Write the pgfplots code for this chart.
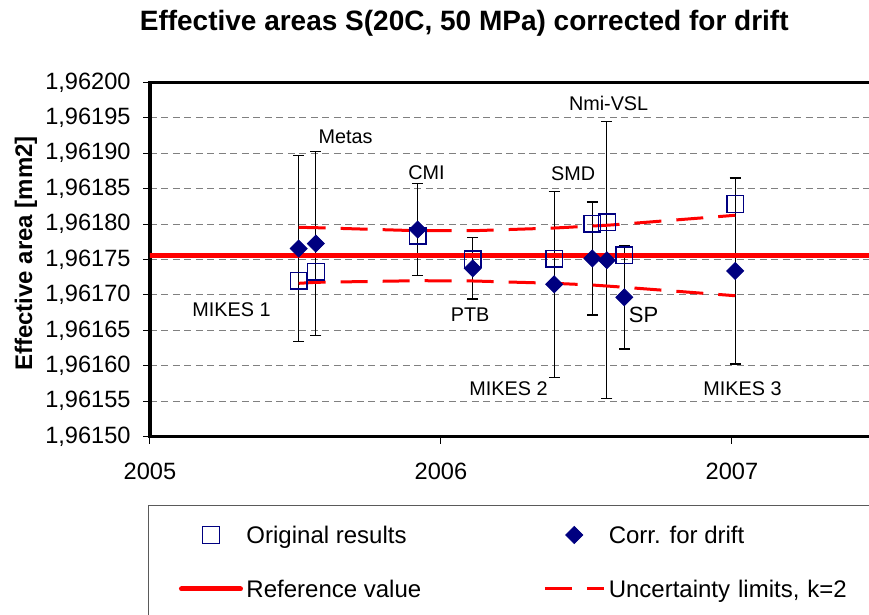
\documentclass[border=0pt]{standalone}
\usepackage{fontspec}
\setmainfont{Liberation Sans}
\usepackage{pgfplots}
\usepackage{pgfplotstable}
\pgfplotsset{compat=1.18}
\definecolor{navyblue}{RGB}{0,0,128}
\definecolor{refred}{RGB}{255,0,0}
\definecolor{gridgray}{RGB}{128,128,128}
\definecolor{boxgray}{RGB}{90,90,90}

% areas given as (S - 1,96150 mm2) in units of 1e-5 mm2
\pgfplotstableread{
year      orig  corr   err    uup    ulo
2005.511  22.01 26.55  13.12  29.54  21.64
2005.570  23.28 27.25  13.00  29.49  21.78
2005.920  28.36 29.22  6.47   29.06  22.01
2006.109  25.03 23.75  4.32   29.06  21.97
2006.389  25.11 21.50  13.12  29.44  21.64
2006.520  30.05 25.15  7.97   29.73  21.40
2006.570  30.25 24.90  19.56  29.83  21.26
2006.630  25.59 19.66  7.29   30.01  21.08
2007.011  32.83 23.38  13.12  31.24  19.89
}\results

\pgfplotsset{
  legline/.style={legend image code/.code={\draw[##1] (0pt,4.3pt) -- (29.5pt,4.3pt);}},
  legmark/.style={legend image code/.code={\draw[mark repeat=2,mark phase=2,##1] plot coordinates {(0pt,4.3pt) (14.75pt,4.3pt) (29.5pt,4.3pt)};}},
}

\begin{document}
\begin{tikzpicture}
\useasboundingbox (-75pt,-89.15pt) rectangle (359.5pt,218.35pt);
\clip (-75pt,-89.15pt) rectangle (359.5pt,218.35pt);
\begin{axis}[
  scale only axis,
  width=363.75pt, height=177.2pt,
  xmin=2005, xmax=2007.5,
  ymin=0, ymax=50,
  xtick={2005,2006,2007},
  xticklabels={2005,2006,2007},
  ytick={0,5,...,50},
  yticklabels={{1,96150},{1,96155},{1,96160},{1,96165},{1,96170},{1,96175},{1,96180},{1,96185},{1,96190},{1,96195},{1,96200}},
  xtick pos=bottom, ytick pos=left,
  tick align=outside,
  major tick length=3.5pt,
  tick style={black, line width=0.5pt},
  axis line style={black, line width=1.6pt},
  ymajorgrids,
  major grid style={gridgray, line width=0.5pt, dash pattern=on 3.5pt off 2.25pt},
  ticklabel style={font=\fontsize{11.8}{13}\selectfont},
  yticklabel style={anchor=east, inner sep=0pt, xshift=-6pt},
  xticklabel style={anchor=base, inner sep=0pt, yshift=-18pt},
  title={Effective areas S(20C, 50 MPa) corrected for drift},
  title style={font=\bfseries\fontsize{14}{16}\selectfont, at={(axis description cs:0.432,1)}, anchor=base, yshift=20.15pt},
  ylabel={Effective area [mm2]},
  every axis y label/.style={at={(axis description cs:0,0.517)}, xshift=-62pt, rotate=90, anchor=center, font=\bfseries\fontsize{12}{14}\selectfont},
  legend columns=2,
  legend cell align=left,
  legend style={
    at={(axis description cs:0,0)}, anchor=north west,
    xshift=-0.65pt, yshift=-34.5pt,
    draw=boxgray, line width=0.5pt, outer sep=0pt,
    inner xsep=15.15pt, inner ysep=9.95pt,
    font=\fontsize{12}{14}\selectfont,
    nodes={inner sep=0pt, anchor=base west, text height=9pt, text depth=3pt},
    row sep=15pt,
    /tikz/every odd column/.append style={column sep=1.75pt},
    /tikz/every even column/.append style={column sep=61pt},
  },
]
% original results
\addplot[only marks, mark=square, mark size=4.2pt, navyblue, line width=0.75pt, legmark]
  table[x=year, y=orig] {\results};
\addlegendentry{Original results}

% corrected for drift, with k=2 uncertainty bars
\addplot[only marks, mark=diamond*, mark size=4.25pt, navyblue,
  mark options={xscale=1.333, fill=navyblue, draw=navyblue}, legmark,
  error bars/.cd, y dir=both, y explicit,
  error bar style={black, line width=0.6pt},
  error mark options={rotate=90, black, line width=0.6pt, mark size=2.75pt}]
  table[x=year, y=corr, y error=err] {\results};
\addlegendentry{Corr. for drift}

% reference value
\addplot[refred, line width=2.5pt, line cap=round, legline] coordinates {(2005,25.5) (2007.5,25.5)};
\addlegendentry[text depth=22pt]{Reference value}

% uncertainty limits
\addplot[refred, line width=1.5pt, dash pattern=on 13.5pt off 7.5pt, legline]
  table[x=year, y=uup] {\results};
\addlegendentry[text depth=22pt, text width=150pt]{Uncertainty limits, k=2}
\addplot[refred, line width=1.5pt, dash pattern=on 13.5pt off 7.5pt, forget plot]
  table[x=year, y=ulo] {\results};

\begin{scope}[font=\fontsize{9.9}{12}\selectfont]
\node at (axis cs:2005.672,42.33) {Metas};
\node at (axis cs:2005.950,37.25) {CMI};
\node at (axis cs:2005.280,17.88) {MIKES 1};
\node at (axis cs:2006.100,17.27) {PTB};
\node at (axis cs:2006.232,6.73) {MIKES 2};
\node at (axis cs:2006.454,37.16) {SMD};
\node at (axis cs:2006.576,47.04) {Nmi-VSL};
\node[font=\fontsize{11}{13}\selectfont] at (axis cs:2006.696,17.17) {SP};
\node at (axis cs:2007.036,6.73) {MIKES 3};
\end{scope}
\end{axis}
\end{tikzpicture}
\end{document}
